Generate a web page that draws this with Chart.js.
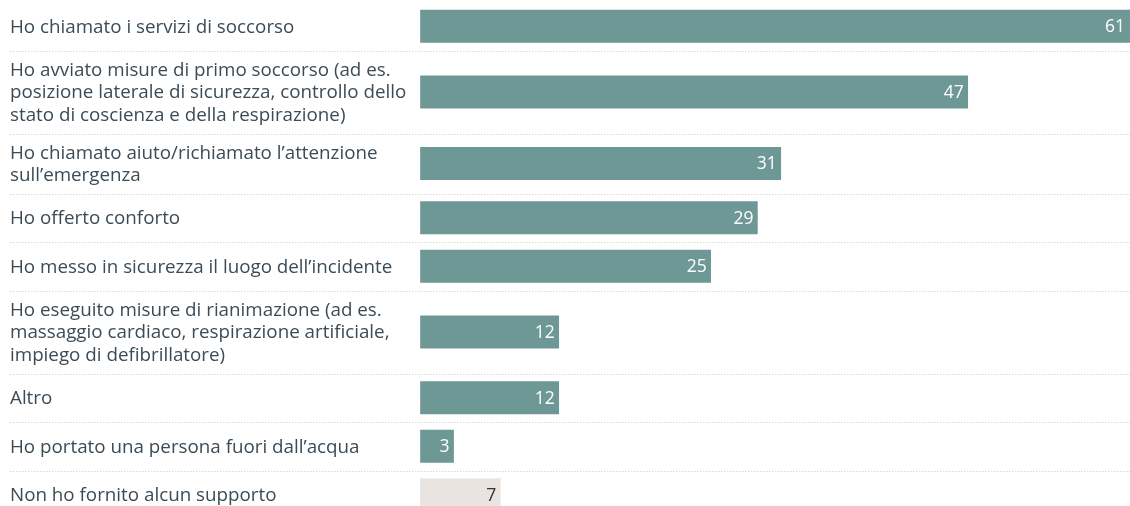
<!DOCTYPE html>
<html lang="it">
<head>
<meta charset="utf-8">
<title>Supporto fornito</title>
<script src="https://cdn.jsdelivr.net/npm/chart.js@4"></script>
<style>
  html, body { margin: 0; padding: 0; background: #fff; }
  #wrap { width: 1130px; height: 506px; position: relative; }
</style>
</head>
<body>
<div id="wrap"><canvas id="chart"></canvas></div>
<script>
// Answers, one entry per row (each inner array = wrapped label lines)
const answers = [
    ["Ho chiamato i servizi di soccorso"],
    ["Ho avviato misure di primo soccorso (ad es.",
     "posizione laterale di sicurezza, controllo dello",
     "stato di coscienza e della respirazione)"],
    ["Ho chiamato aiuto/richiamato l\u2019attenzione",
     "sull\u2019emergenza"],
    ["Ho offerto conforto"],
    ["Ho messo in sicurezza il luogo dell\u2019incidente"],
    ["Ho eseguito misure di rianimazione (ad es.",
     "massaggio cardiaco, respirazione artificiale,",
     "impiego di defibrillatore)"],
    ["Altro"],
    ["Ho portato una persona fuori dall\u2019acqua"],
    ["Non ho fornito alcun supporto"]
];
const shares = [61, 47, 31, 29, 25, 12, 12, 3, 7];
const kinds = ["aiuto", "aiuto", "aiuto", "aiuto", "aiuto", "aiuto", "aiuto", "aiuto", "nessuno"];

const FONT = "'Open Sans', 'Noto Sans', sans-serif";
const TEXT = "#3c4b55";
const BAR_COLORS = { aiuto: "#6e9895", nessuno: "#e9e4e0" };
const VALUE_COLORS = { aiuto: "#ffffff", nessuno: "#333333" };

// row heights grow with the number of label lines
const LINE_H = 23, BAR_H = 34.5, ROW_PAD = 14;
const rowHeights = answers.map(a => Math.max(BAR_H, a.length * LINE_H) + ROW_PAD);
const rowTops = [];
rowHeights.reduce((acc, h) => { rowTops.push(acc); return acc + h; }, 0);
const rowCenters = rowTops.map((t, i) => t + rowHeights[i] / 2);

const rowDecor = {
    id: "rowDecor",
    beforeDatasetsDraw(chart) {
        const { ctx, scales: { y }, chartArea } = chart;
        ctx.save();
        ctx.strokeStyle = "#d9d9d9";
        ctx.lineWidth = 1;
        ctx.setLineDash([1.5, 1.5]);
        rowTops.slice(1).forEach(t => {
            const py = Math.round(y.getPixelForValue(t)) + 0.5;
            ctx.beginPath();
            ctx.moveTo(10, py);
            ctx.lineTo(chartArea.right, py);
            ctx.stroke();
        });
        ctx.restore();
    },
    afterDatasetsDraw(chart) {
        const { ctx, scales: { y } } = chart;
        const bars = chart.getDatasetMeta(0).data;
        ctx.save();
        ctx.textBaseline = "middle";

        // category labels on the left
        ctx.font = "18.8px " + FONT;
        ctx.fillStyle = TEXT;
        ctx.textAlign = "left";
        answers.forEach((lines, i) => {
            const cy = y.getPixelForValue(rowCenters[i]);
            const first = cy - (lines.length - 1) * 22.5 / 2;
            lines.forEach((line, k) => ctx.fillText(line, 10, first + k * 22.5 + 1));
        });

        // values inside the bar ends (kept inside the canvas for the longest bar)
        ctx.font = "17.5px " + FONT;
        ctx.textAlign = "right";
        bars.forEach((bar, i) => {
            ctx.fillStyle = VALUE_COLORS[kinds[i]];
            const end = Math.min(bar.x, chart.chartArea.right);
            ctx.fillText(String(shares[i]), end - 5, bar.y + 1);
        });
        ctx.restore();
    }
};

new Chart(document.getElementById("chart"), {
    type: "bar",
    data: {
        datasets: [{
            data: shares.map((v, i) => ({ x: v, y: rowCenters[i] })),
            backgroundColor: kinds.map(k => BAR_COLORS[k]),
            borderColor: "rgba(255,255,255,0.55)",
            borderWidth: 1,
            borderSkipped: false,
            barThickness: BAR_H
        }]
    },
    options: {
        indexAxis: "y",
        responsive: true,
        maintainAspectRatio: false,
        animation: false,
        layout: { padding: { left: 419.5, top: 2, right: 0, bottom: 0 } },
        scales: {
            x: { type: "linear", min: 0, max: 60.8, display: false },
            y: { type: "linear", reverse: true, min: 0, max: 504, offset: false, display: false }
        },
        plugins: {
            legend: { display: false },
            tooltip: { enabled: false }
        }
    },
    plugins: [rowDecor]
});
</script>
</body>
</html>
